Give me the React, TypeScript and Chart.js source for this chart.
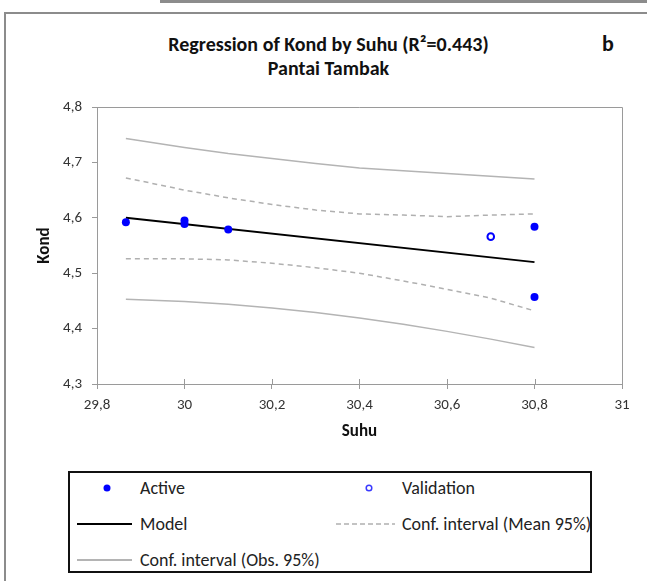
import React, { useEffect, useRef } from 'react'
import { Chart, registerables } from 'chart.js'

Chart.register(...registerables)

const FONT = 'Carlito, "Liberation Sans Narrow", "Open Sans", sans-serif'

// observations
const activeX = [29.866, 30, 30, 30.1, 30.8, 30.8]
const activeY = [4.592, 4.595, 4.589, 4.579, 4.584, 4.457]
const validationX = [30.7]
const validationY = [4.566]

// model and confidence bands
const modelX = [29.866, 30.8]
const modelY = [4.6, 4.52]
const bandX = [29.866, 30, 30.1, 30.2, 30.3, 30.4, 30.5, 30.6, 30.7, 30.8]
const meanUpper = [4.672, 4.65, 4.636, 4.624, 4.614, 4.607, 4.605, 4.602, 4.605, 4.607]
const meanLower = [4.526, 4.526, 4.524, 4.518, 4.51, 4.5, 4.486, 4.471, 4.455, 4.432]
const obsUpper = [4.743, 4.727, 4.716, 4.707, 4.698, 4.69, 4.685, 4.68, 4.675, 4.67]
const obsLower = [4.453, 4.449, 4.444, 4.437, 4.429, 4.419, 4.408, 4.395, 4.381, 4.366]

const xTicks = [29.8, 30, 30.2, 30.4, 30.6, 30.8, 31]
const yTicks = [4.3, 4.4, 4.5, 4.6, 4.7, 4.8]

const pts = (xs: number[], ys: number[]) => xs.map((x, i) => ({ x, y: ys[i] }))
const comma = (v: number) => String(Math.round(v * 10) / 10).replace('.', ',')

const AXIS_GRAY = '#9a9a9a'
const DASH_GRAY = '#b0b0b0'
const OBS_GRAY = '#b4b4b4'

// top/right frame of the plot and the inner half of the x ticks
const framePlugin = {
  id: 'frame',
  afterDraw(chart: any) {
    const { ctx, chartArea } = chart
    const xs = chart.scales.x
    ctx.save()
    ctx.strokeStyle = AXIS_GRAY
    ctx.lineWidth = 1
    ctx.beginPath()
    ctx.moveTo(chartArea.left, chartArea.top + 0.5)
    ctx.lineTo(chartArea.right + 0.5, chartArea.top + 0.5)
    ctx.lineTo(chartArea.right + 0.5, chartArea.bottom)
    for (const v of xTicks) {
      const px = Math.round(xs.getPixelForValue(v)) + 0.5
      ctx.moveTo(px, chartArea.bottom)
      ctx.lineTo(px, chartArea.bottom - 5)
    }
    ctx.stroke()
    ctx.restore()
  }
}

const ChartCanvas = () => {
  const chartRef = useRef<HTMLCanvasElement>(null)
  const chartInstanceRef = useRef<any>(null)

  useEffect(() => {
    const ctx = chartRef.current!.getContext('2d')!

    chartInstanceRef.current = new Chart(ctx, {
      type: 'scatter',
      data: {
        datasets: [
          {
            label: 'Active',
            data: pts(activeX, activeY),
            backgroundColor: '#0000ff',
            borderColor: '#0000ff',
            pointRadius: 4,
            pointBorderWidth: 0
          },
          {
            label: 'Validation',
            data: pts(validationX, validationY),
            backgroundColor: '#ffffff',
            borderColor: '#0000ff',
            pointRadius: 3.3,
            pointBorderWidth: 2
          },
          {
            label: 'Model',
            data: pts(modelX, modelY),
            showLine: true,
            borderColor: '#000000',
            borderWidth: 2,
            pointRadius: 0
          },
          {
            label: 'Conf. interval (Mean 95%)',
            data: pts(bandX, meanUpper),
            showLine: true,
            borderColor: DASH_GRAY,
            borderWidth: 1.5,
            borderDash: [5, 4],
            pointRadius: 0
          },
          {
            label: 'mean lower',
            data: pts(bandX, meanLower),
            showLine: true,
            borderColor: DASH_GRAY,
            borderWidth: 1.5,
            borderDash: [5, 4],
            pointRadius: 0
          },
          {
            label: 'Conf. interval (Obs. 95%)',
            data: pts(bandX, obsUpper),
            showLine: true,
            borderColor: OBS_GRAY,
            borderWidth: 1.5,
            pointRadius: 0
          },
          {
            label: 'obs lower',
            data: pts(bandX, obsLower),
            showLine: true,
            borderColor: OBS_GRAY,
            borderWidth: 1.5,
            pointRadius: 0
          }
        ]
      },
      options: {
        animation: false,
        responsive: true,
        maintainAspectRatio: false,
        layout: { padding: { top: 20, right: 25, bottom: 0, left: 0 } },
        plugins: {
          legend: { display: false },
          tooltip: { enabled: false }
        },
        scales: {
          x: {
            type: 'linear',
            min: 29.8,
            max: 31,
            afterBuildTicks: (s: any) => {
              s.ticks = xTicks.map((value) => ({ value }))
            },
            afterFit: (s: any) => {
              s.height = 60
            },
            ticks: {
              callback: (v: any) => comma(Number(v)),
              color: '#333',
              font: { family: FONT, size: 15 },
              padding: 7,
              maxRotation: 0
            },
            grid: { drawOnChartArea: false, tickLength: 5, color: AXIS_GRAY },
            border: { color: AXIS_GRAY },
            title: {
              display: true,
              text: 'Suhu',
              color: '#111',
              font: { family: FONT, size: 17, weight: 'bold' },
              padding: { top: 0, bottom: 2 }
            }
          },
          y: {
            type: 'linear',
            min: 4.3,
            max: 4.8,
            afterBuildTicks: (s: any) => {
              s.ticks = yTicks.map((value) => ({ value }))
            },
            afterFit: (s: any) => {
              s.width = 97
            },
            ticks: {
              callback: (v: any) => comma(Number(v)),
              color: '#333',
              font: { family: FONT, size: 15 },
              padding: 10
            },
            grid: { drawOnChartArea: false, tickLength: 5, color: AXIS_GRAY },
            border: { color: AXIS_GRAY },
            title: {
              display: true,
              text: 'Kond',
              color: '#111',
              font: { family: FONT, size: 17, weight: 'bold' },
              padding: { top: 35, bottom: 0 }
            }
          }
        }
      } as any,
      plugins: [framePlugin]
    })

    return () => {
      chartInstanceRef.current.destroy()
    }
  }, [])

  return (
    <div style={{ position: 'absolute', left: 0, top: 87, width: 647, height: 357 }}>
      <canvas ref={chartRef}></canvas>
    </div>
  )
}

const abs = (s: React.CSSProperties): React.CSSProperties => ({ position: 'absolute', ...s })

const Legend = () => {
  const text: React.CSSProperties = {
    fontFamily: FONT,
    fontSize: 18,
    color: '#222',
    lineHeight: '22px',
    whiteSpace: 'nowrap'
  }
  return (
    <div
      style={abs({
        left: 68,
        top: 471,
        width: 524,
        height: 102,
        border: '2px solid #111',
        boxSizing: 'border-box',
        background: '#fff',
        overflow: 'hidden'
      })}
    >
      <svg width={520} height={98} style={abs({ left: 0, top: 0 })}>
        <circle cx={37} cy={15} r={3.5} fill="#0000ff" />
        <circle cx={299} cy={15} r={2.8} fill="#fff" stroke="#3a3aff" strokeWidth={1.5} />
        <line x1={7} y1={51} x2={62} y2={51} stroke="#000" strokeWidth={2} />
        <line x1={266} y1={51} x2={325} y2={51} stroke={DASH_GRAY} strokeWidth={1.5} strokeDasharray="5 3" />
        <line x1={7} y1={87} x2={62} y2={87} stroke={OBS_GRAY} strokeWidth={2} />
      </svg>
      <div style={abs({ ...text, left: 70, top: 4 })}>Active</div>
      <div style={abs({ ...text, left: 332, top: 4 })}>Validation</div>
      <div style={abs({ ...text, left: 70, top: 40 })}>Model</div>
      <div style={abs({ ...text, left: 332, top: 40 })}>Conf. interval (Mean 95%)</div>
      <div style={abs({ ...text, left: 70, top: 76 })}>Conf. interval (Obs. 95%)</div>
    </div>
  )
}

const App = () => {
  const titleStyle: React.CSSProperties = {
    fontFamily: FONT,
    fontWeight: 'bold',
    fontSize: 20,
    color: '#111',
    textAlign: 'center',
    lineHeight: '24px',
    whiteSpace: 'nowrap'
  }
  return (
    <div style={abs({ left: 0, top: 0, width: 647, height: 581, overflow: 'hidden', background: '#fff' })}>
      <div style={abs({ left: 160, top: 0, width: 500, height: 3, background: '#8c8c8c' })} />
      <div
        style={abs({
          left: 4,
          top: 12,
          width: 700,
          height: 700,
          borderTop: '2px solid #8c8c8c',
          borderLeft: '2px solid #8c8c8c'
        })}
      />
      <div style={abs({ ...titleStyle, left: 0, top: 32, width: 657 })}>
        Regression of Kond by Suhu (R²=0.443)
      </div>
      <div style={abs({ ...titleStyle, left: 0, top: 56, width: 657 })}>Pantai Tambak</div>
      <div style={abs({ ...titleStyle, left: 602, top: 32, fontSize: 22 })}>b</div>
      <ChartCanvas />
      <Legend />
    </div>
  )
}

export default App
